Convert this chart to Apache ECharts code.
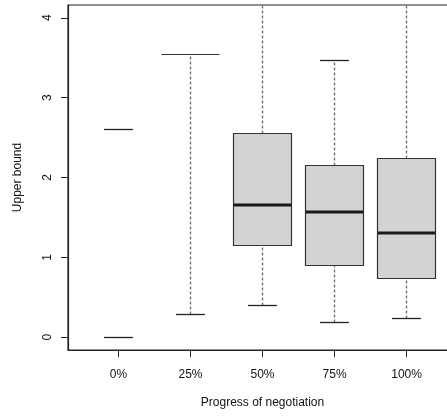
<!DOCTYPE html>
<html>
<head>
<meta charset="utf-8">
<script src="https://cdn.jsdelivr.net/npm/echarts@6/dist/echarts.min.js"></script>
<style>html,body{margin:0;padding:0;background:#fff;overflow:hidden;width:447px;height:416px}#c{width:480px;height:416px}</style>
</head>
<body>
<div id="c"></div>
<script>
var categories = ['0%', '25%', '50%', '75%', '100%'];
var whiskerLow = [0, 0.28, 0.40, 0.18, 0.23];
var boxLow = [null, 3.54, 1.15, 0.90, 0.73];
var median = [null, null, 1.65, 1.57, 1.30];
var boxHigh = [null, 3.54, 2.55, 2.15, 2.24];
var whiskerHigh = [2.6, null, 4.6, 3.46, 4.6];
var yTicks = [0, 1, 2, 3, 4];
var xTicks = [1, 2, 3, 4, 5];

var rows = categories.map(function (c, i) {
  return [i + 1, whiskerLow[i], boxLow[i], median[i], boxHigh[i], whiskerHigh[i]];
});

var lineCol = '#222';
var font = 'Liberation Sans, Arial, Helvetica, sans-serif';

function snap(v) { return Math.round(v - 0.5) + 0.5; }

function renderItem(params, api) {
  var r = rows[params.dataIndex];
  var x = r[0];
  var cs = params.coordSys;
  var yTop = cs.y, yBot = cs.y + cs.height;
  function Y(v) { var p = api.coord([x, v])[1]; return snap(Math.max(yTop, Math.min(yBot, p))); }
  var cx = snap(api.coord([x, 0])[0]);
  var bw = api.size([0.8, 0])[0];
  var cw = bw / 2;
  var ch = [];
  var wl = r[1], bl = r[2], md = r[3], bh = r[4], wh = r[5];
  var dashStyle = {stroke: '#777', lineWidth: 1.4, lineDash: [3, 2]};
  if (bl != null && wl != null) {
    ch.push({type: 'line', shape: {x1: cx, y1: Y(wl), x2: cx, y2: Y(bl)}, style: dashStyle});
  }
  if (bh != null && wh != null) {
    ch.push({type: 'line', shape: {x1: cx, y1: Y(bh), x2: cx, y2: Y(wh)}, style: dashStyle});
  }
  if (bl != null && bh != null) {
    var y1 = Y(bh), y2 = Y(bl);
    var xl = snap(cx - bw / 2), xr = snap(cx + bw / 2);
    ch.push({type: 'rect', shape: {x: xl, y: y1, width: xr - xl, height: y2 - y1},
      style: {fill: '#d3d3d3', stroke: '#333', lineWidth: 1.2}});
  }
  if (md != null) {
    var ym = Math.round(api.coord([x, md])[1]);
    ch.push({type: 'line', shape: {x1: cx - bw / 2, y1: ym, x2: cx + bw / 2, y2: ym},
      style: {stroke: '#1a1a1a', lineWidth: 3}});
  }
  [wl, wh].forEach(function (v) {
    if (v == null) return;
    var p = api.coord([x, v])[1];
    if (p < yTop || p > yBot) return;
    p = snap(p);
    ch.push({type: 'polyline', shape: {points: [[cx - cw / 2, p], [cx + cw / 2, p]]},
      style: {stroke: lineCol, lineWidth: 1.3, fill: null}});
  });
  return {type: 'group', children: ch};
}

var chart = echarts.init(document.getElementById('c'), null, {renderer: 'canvas'});
chart.setOption({
  animation: false,
  grid: {left: 68, top: 5, width: 389, height: 345, show: true, borderColor: lineCol, borderWidth: 1.2, backgroundColor: 'transparent'},
  xAxis: {
    type: 'value', min: 0.3, max: 5.7,
    name: 'Progress of negotiation', nameLocation: 'middle', nameGap: 47,
    nameTextStyle: {fontFamily: font, fontSize: 12, color: '#111'},
    axisLine: {show: true, onZero: false, lineStyle: {color: lineCol, width: 1.2}},
    axisTick: {show: true, customValues: xTicks, length: 7, lineStyle: {color: lineCol}},
    axisLabel: {customValues: xTicks, margin: 19, fontFamily: font, fontSize: 12, color: '#111',
      formatter: function (v) { return categories[Math.round(v) - 1]; }},
    splitLine: {show: false}
  },
  yAxis: {
    type: 'value', min: -0.16, max: 4.16,
    name: 'Upper bound', nameLocation: 'middle', nameGap: 44, nameRotate: 90,
    nameTextStyle: {fontFamily: font, fontSize: 12, color: '#111'},
    axisLine: {show: true, onZero: false, lineStyle: {color: lineCol, width: 1.2}},
    axisTick: {show: true, customValues: yTicks, length: 7, lineStyle: {color: lineCol}},
    axisLabel: {customValues: yTicks, rotate: 90, margin: 14, fontFamily: font, fontSize: 12, color: '#111'},
    splitLine: {show: false}
  },
  series: [{
    type: 'custom',
    renderItem: renderItem,
    clip: true,
    data: rows.map(function (r) { return [r[0], r[3] == null ? 0 : r[3]]; })
  }]
});
</script>
</body>
</html>
